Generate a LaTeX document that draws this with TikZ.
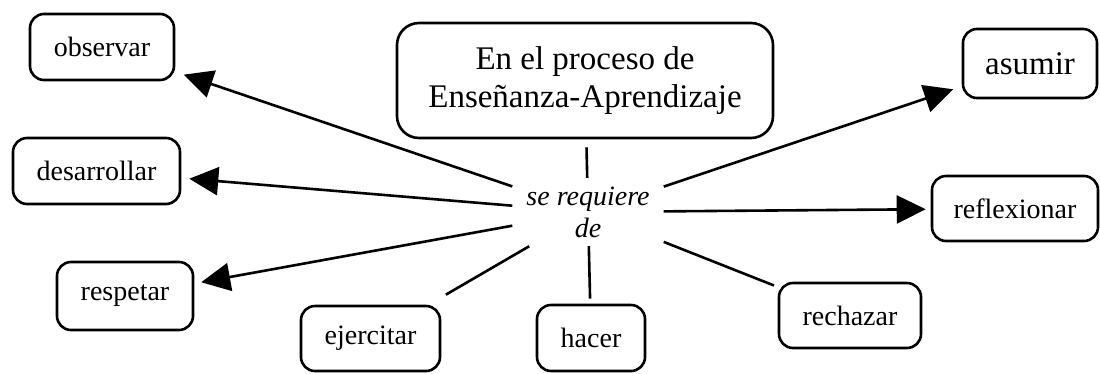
\documentclass[tikz,border=0pt]{standalone}
\usepackage{fontspec}
\setmainfont{Liberation Serif}
\usetikzlibrary{arrows.meta}
\begin{document}
\begin{tikzpicture}[x=1pt,y=-1pt,
  box/.style={draw, line width=2.6pt, rounded corners=14pt, inner sep=0pt,
    font=\fontsize{28}{32}\selectfont, align=center},
  conn/.style={line width=2.6pt, shorten >=8pt},
  arr/.style={conn, -{Triangle[length=29pt,width=28pt]}}]
\useasboundingbox (0,0) rectangle (1100,373);
\node[box, rounded corners=22pt, minimum width=376pt, minimum height=115pt,
  font=\fontsize{33}{38}\selectfont] (top) at (585,80.5)
  {En el proceso de\\Enseñanza-Aprendizaje};
\node[inner sep=0pt, minimum width=151pt, minimum height=68pt, align=center,
  font=\fontsize{28}{32}\selectfont\itshape] (lab) at (588,212)
  {se requiere\\de};
\node[box, minimum width=144pt, minimum height=66pt] (obs) at (102,47) {observar};
\node[box, minimum width=167pt, minimum height=66pt] (des) at (96.5,171) {desarrollar};
\node[box, minimum width=136pt, minimum height=68pt] (res) at (125,296) {respetar};
\node[box, minimum width=139pt, minimum height=65pt] (eje) at (370.5,338.5) {ejercitar};
\node[box, minimum width=108pt, minimum height=66pt] (hac) at (591,338) {hacer};
\node[box, minimum width=142pt, minimum height=65pt] (rec) at (850,315.5) {rechazar};
\node[box, minimum width=166pt, minimum height=65pt] (ref) at (1015,208.5) {reflexionar};
\node[box, minimum width=134pt, minimum height=69pt, font=\fontsize{33}{38}\selectfont] (asu) at (1030,63.5) {asumir};
\draw[conn, shorten <=8pt, shorten >=0pt] (top) -- (lab);
\draw[arr, shorten >=9pt] (lab) -- (obs);
\draw[arr] (lab) -- (des);
\draw[arr, shorten >=7pt] (lab) -- (res);
\draw[conn, shorten >=20pt] (lab) -- (eje);
\draw[conn, shorten >=5pt] (lab) -- (hac);
\draw[conn, shorten >=4pt] (lab) -- (rec);
\draw[arr, shorten >=5pt] (lab) -- (ref);
\draw[arr, shorten >=9pt] (lab) -- (asu);
\end{tikzpicture}
\end{document}
